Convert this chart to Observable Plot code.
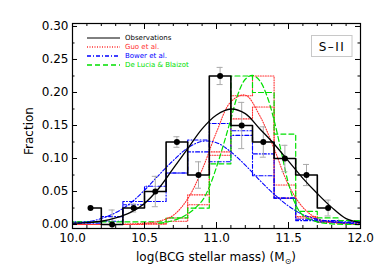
<!DOCTYPE html>
<html><head><meta charset="utf-8">
<script src="https://cdn.jsdelivr.net/npm/d3@7"></script>
<script src="https://cdn.jsdelivr.net/npm/@observablehq/plot@0.6"></script>
<style>body{margin:0;background:#fff}svg{display:block}</style>
</head><body><div id="chart"></div>
<script>
// ---- data ----
const obsCenters = [10.125,10.275,10.425,10.575,10.725,10.875,11.025,11.175,11.325,11.475,11.625,11.775];
const obsFrac    = [0.025,0.0,0.025,0.05,0.125,0.075,0.225,0.15,0.125,0.10,0.075,0.025];
const obsErr     = [0,0.022,0.006,0.023,0.008,0.02,0.013,0.035,0.023,0.02,0.016,0.012];

const modelCenters = [9.975,10.125,10.275,10.425,10.575,10.725,10.875,11.025,11.175,11.325,11.475,11.625,11.775,11.925,12.075];
const guoA    = [0,0,0,0,0.001,0.01,0.045,0.11,0.195,0.225,0.04,0.012,0.005,0.002,0.001];
const guoB    = [0,0,0,0,0.001,0.005,0.03,0.105,0.16,0.178,0.06,0.01,0.003,0.002,0.001];
const bowerA  = [0.004,0.004,0.012,0.035,0.035,0.078,0.128,0.095,0.135,0.107,0.04,0.006,0.004,0.003,0.003];
const bowerB  = [0.002,0.002,0.005,0.03,0.058,0.078,0.11,0.153,0.142,0.074,0.04,0.008,0.006,0.004,0.004];
const deLucia = [0.004,0.004,0.004,0.004,0.004,0.01,0.025,0.092,0.225,0.20,0.137,0.02,0.01,0.006,0.006];

const fitX     = [10.0,10.1,10.2,10.3,10.4,10.5,10.6,10.7,10.8,10.9,11.0,11.1,11.2,11.3,11.4,11.5,11.6,11.7,11.8,11.9,12.0];
const obsFit   = [0.002,0.003,0.005,0.01,0.018,0.032,0.055,0.085,0.115,0.145,0.166,0.175,0.168,0.145,0.122,0.096,0.07,0.047,0.026,0.009,0.003];
const guoFit   = [0,0,0,0,0.001,0.002,0.005,0.014,0.039,0.083,0.14,0.186,0.196,0.165,0.115,0.06,0.026,0.009,0.003,0.001,0];
const bowerFit = [0.002,0.004,0.009,0.018,0.032,0.052,0.075,0.097,0.116,0.126,0.124,0.11,0.09,0.067,0.046,0.028,0.015,0.008,0.004,0.002,0.001];
const dlFitX   = [10.6,10.7,10.8,10.9,10.95,11.0,11.05,11.1,11.15,11.2,11.25,11.3,11.35,11.4,11.45,11.5,11.55,11.6,11.7,11.8,12.0];
const dlFit    = [0.002,0.006,0.016,0.036,0.057,0.087,0.122,0.16,0.198,0.22,0.226,0.218,0.195,0.158,0.11,0.062,0.03,0.014,0.004,0.001,0];

const xMajor = [10.0,10.5,11.0,11.5,12.0];
const xMinor = [10.1,10.2,10.3,10.4,10.6,10.7,10.8,10.9,11.1,11.2,11.3,11.4,11.6,11.7,11.8,11.9];
const yMajor = [0,0.05,0.10,0.15,0.20,0.25,0.30];
const yMinor = [0.025,0.075,0.125,0.175,0.225,0.275];

const RED = "#ff3030", BLUE = "#0000ff", GREEN = "#00e000";
const legendNames  = ["Observations","Guo et al.","Bower et al.","De Lucia & Blaizot"];
const legendColors = ["#000000", RED, BLUE, GREEN];
const legendDash   = [null,"1,1.5","4,2,1,2","5,3"];

// ---- helpers ----
const pts = (xs, ys) => xs.map((x,i)=>({x, y: ys[i]}));
const X0 = 10, X1 = 12, Y0 = -0.006, Y1 = 0.3045;
const W = 382, H = 273, mL = 72, mR = 22, mT = 23, mB = 45;
const pxX = (X1-X0)/(W-mL-mR), pxY = (Y1-Y0)/(H-mT-mB);
const obs = obsCenters.map((x,i)=>({x, y: obsFrac[i], e: obsErr[i]}));
const errs = obs.filter(d=>d.e>0);

const chart = Plot.plot({
  width: W, height: H, marginLeft: mL, marginRight: mR, marginTop: mT, marginBottom: mB,
  style: {fontFamily: "DejaVu Sans", fontSize: "12px", background: "white", color: "black"},
  x: {domain: [X0, X1]},
  y: {domain: [Y0, Y1]},
  marks: [
    Plot.axisX({ticks: xMajor, tickSize: 0, tickPadding: 5, tickFormat: d3.format(".1f"), label: null, fontSize: 12}),
    Plot.axisY({ticks: yMajor, tickSize: 0, tickPadding: 4, tickFormat: d3.format(".2f"), label: null, fontSize: 12}),
    // model histograms
    Plot.line(pts(modelCenters, guoB), {x:"x", y:"y", curve:"step", stroke: RED, strokeWidth: 1.1, strokeDasharray: "1,1.5", clip: true}),
    Plot.line(pts(modelCenters, guoA), {x:"x", y:"y", curve:"step", stroke: RED, strokeWidth: 1.1, strokeDasharray: "1,1.5", clip: true}),
    Plot.line(pts(modelCenters, bowerA), {x:"x", y:"y", curve:"step", stroke: BLUE, strokeWidth: 1.1, strokeDasharray: "4,2,1,2", clip: true}),
    Plot.line(pts(modelCenters, bowerB), {x:"x", y:"y", curve:"step", stroke: BLUE, strokeWidth: 1.1, strokeDasharray: "4,2,1,2", clip: true}),
    Plot.line(pts(modelCenters, deLucia), {x:"x", y:"y", curve:"step", stroke: GREEN, strokeWidth: 1.2, strokeDasharray: "5,3", clip: true}),
    // model fits
    Plot.line(pts(fitX, guoFit), {x:"x", y:"y", curve:"catmull-rom", stroke: RED, strokeWidth: 1.1, strokeDasharray: "1,1.5", clip: true}),
    Plot.line(pts(fitX, bowerFit), {x:"x", y:"y", curve:"catmull-rom", stroke: BLUE, strokeWidth: 1.1, strokeDasharray: "4,2,1,2", clip: true}),
    Plot.line(pts(dlFitX, dlFit), {x:"x", y:"y", curve:"catmull-rom", stroke: GREEN, strokeWidth: 1.2, strokeDasharray: "5,3", clip: true}),
    // observations
    Plot.ruleX(errs, {x:"x", y1: d=>d.y-d.e, y2: d=>d.y+d.e, stroke:"#aaaaaa", strokeWidth: 1, clip: true}),
    Plot.ruleY(errs, {y: d=>d.y-d.e, x1: d=>d.x-3*pxX, x2: d=>d.x+3*pxX, stroke:"#aaaaaa", strokeWidth: 1, clip: true}),
    Plot.ruleY(errs, {y: d=>d.y+d.e, x1: d=>d.x-3*pxX, x2: d=>d.x+3*pxX, stroke:"#aaaaaa", strokeWidth: 1, clip: true}),
    Plot.line(obs, {x:"x", y:"y", curve:"step", stroke:"black", strokeWidth: 1.6, clip: true}),
    Plot.line(pts(fitX, obsFit), {x:"x", y:"y", curve:"catmull-rom", stroke:"black", strokeWidth: 1.3, clip: true}),
    Plot.dot(obs, {x:"x", y:"y", r: 3, fill:"black", clip: true}),
    // frame and inward ticks
    Plot.frame({stroke:"black", strokeWidth: 1.2}),
    Plot.ruleX(xMajor, {x: d=>d, y1: Y0, y2: Y0 + 6*pxY, stroke:"black"}),
    Plot.ruleX(xMinor, {x: d=>d, y1: Y0, y2: Y0 + 3*pxY, stroke:"black"}),
    Plot.ruleX(xMajor, {x: d=>d, y1: Y1, y2: Y1 - 6*pxY, stroke:"black"}),
    Plot.ruleX(xMinor, {x: d=>d, y1: Y1, y2: Y1 - 3*pxY, stroke:"black"}),
    Plot.ruleY(yMajor, {y: d=>d, x1: X0, x2: X0 + 5*pxX, stroke:"black"}),
    Plot.ruleY(yMinor, {y: d=>d, x1: X0, x2: X0 + 2.5*pxX, stroke:"black"}),
    Plot.ruleY(yMajor, {y: d=>d, x1: X1, x2: X1 - 5*pxX, stroke:"black"}),
    Plot.ruleY(yMinor, {y: d=>d, x1: X1, x2: X1 - 2.5*pxX, stroke:"black"})
  ]
});
document.getElementById("chart").appendChild(chart);

const svg = d3.select(chart);
// y title
svg.append("text").attr("transform","translate(33,131) rotate(-90)")
  .attr("text-anchor","middle").attr("font-size",12).attr("fill","black").text("Fraction");
// x title with solar subscript
const xt = svg.append("text").attr("x",216).attr("y",260.5).attr("text-anchor","middle")
  .attr("font-size",12).attr("fill","black");
xt.append("tspan").text("log(BCG stellar mass) (M");
xt.append("tspan").attr("font-size",8).attr("dy",3).text("⊙");
xt.append("tspan").attr("dy",-3).text(")");
// legend
const lg = svg.append("g").attr("fill","none");
legendNames.forEach((name,i)=>{
  const y = Math.round(38 + i*9.15);
  const seg = lg.append("path").attr("d", `M87,${y}H120`)
    .attr("fill","none").attr("stroke", legendColors[i]).attr("stroke-width", i===0?1:1.3);
  if (legendDash[i]) seg.attr("stroke-dasharray", legendDash[i]);
  lg.append("text").attr("x",125).attr("y",y).attr("dy","0.35em")
    .attr("text-anchor","start").attr("stroke","none")
    .attr("font-size",7).attr("fill",legendColors[i]).text(name);
});
// panel tag
svg.append("rect").attr("x",311.5).attr("y",35.5).attr("width",40.5).attr("height",21)
  .attr("fill","white").attr("stroke","#c8c8c8");
svg.append("text").attr("x",332).attr("y",50.5).attr("text-anchor","middle")
  .attr("font-size",12).attr("letter-spacing","1.5px").attr("fill","black").text("S–II");
</script></body></html>
